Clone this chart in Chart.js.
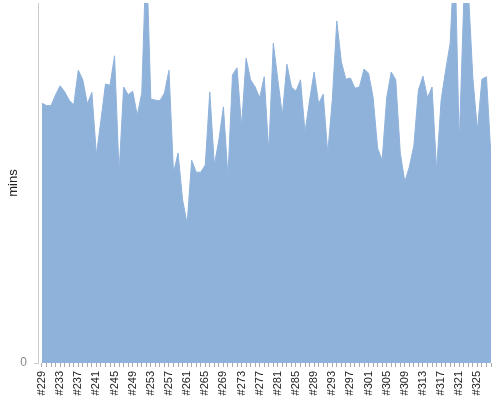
<!DOCTYPE html>
<html><head><meta charset="utf-8">
<script src="https://cdn.jsdelivr.net/npm/chart.js@4/dist/chart.umd.min.js"></script>
<style>html,body{margin:0;padding:0;background:#fff}canvas{display:block}</style>
</head><body>
<canvas id="c" width="500" height="400"></canvas>
<script>
const categories = ['#229','#230','#231','#232','#233','#234','#235','#236','#237','#238',
'#239','#240','#241','#242','#243','#244','#245','#246','#247','#248',
'#249','#250','#251','#252','#253','#254','#255','#256','#257','#258',
'#259','#260','#261','#262','#263','#264','#265','#266','#267','#268',
'#269','#270','#271','#272','#273','#274','#275','#276','#277','#278',
'#279','#280','#281','#282','#283','#284','#285','#286','#287','#288',
'#289','#290','#291','#292','#293','#294','#295','#296','#297','#298',
'#299','#300','#301','#302','#303','#304','#305','#306','#307','#308',
'#309','#310','#311','#312','#313','#314','#315','#316','#317','#318',
'#319','#320','#321','#322','#323','#324','#325','#326','#327','#328'];
const values = [43.3,42.9,42.9,44.7,46.2,45.2,43.8,43.0,48.8,47.2,
43.2,45.1,34.7,40.5,46.5,46.3,51.2,31.7,46.0,44.7,
45.3,41.3,45.0,69.0,44.0,43.8,43.7,45.0,48.8,31.7,
35.0,27.2,23.2,33.8,31.8,31.8,33.0,45.2,33.0,37.2,
42.7,31.0,48.0,49.2,39.5,50.8,47.2,46.0,44.2,47.7,
35.2,53.3,47.2,41.3,49.8,46.0,45.3,47.2,38.5,43.8,
48.5,43.2,44.8,35.0,43.8,57.0,50.2,47.3,47.5,45.8,
46.0,49.0,48.3,44.3,35.8,33.8,44.2,48.5,47.2,35.0,
30.2,32.7,36.3,45.5,47.8,44.2,46.0,32.2,43.8,48.8,
53.3,69.5,36.7,60.5,62.2,47.5,38.8,47.3,47.7,34.3];
const yTickValues = [0];
const yAxisTitle = 'mins';
const labelEvery = 4;

const points = values.map((v, i) => ({x: i, y: v}));

new Chart(document.getElementById('c'), {
  type: 'line',
  data: { datasets: [{
    data: points,
    fill: 'origin',
    backgroundColor: '#8fb2db',
    borderColor: '#8fb2db',
    borderWidth: 1,
    pointRadius: 0,
    tension: 0
  }]},
  options: {
    responsive: false,
    animation: false,
    devicePixelRatio: 1,
    layout: { padding: { top: 3, right: 9, left: 0, bottom: 0 } },
    plugins: { legend: { display: false }, tooltip: { enabled: false } },
    scales: {
      x: {
        type: 'linear',
        bounds: 'data',
        min: -0.88,
        max: categories.length - 1,
        afterBuildTicks: s => { s.ticks = categories.map((c, i) => ({value: i})); },
        afterFit: s => { s.height = 37; s.paddingLeft = 0; s.paddingRight = 0; },
        grid: { drawOnChartArea: false, drawTicks: true, tickLength: 4, color: '#aaa' },
        border: { display: false },
        ticks: {
          autoSkip: false,
          minRotation: 90,
          maxRotation: 90,
          padding: 4,
          color: '#222',
          font: { family: 'Liberation Sans, Arial, sans-serif', size: 11 },
          callback: v => (v % labelEvery === 0) ? categories[v] : ''
        }
      },
      y: {
        min: 0,
        max: 60,
        afterFit: s => { s.width = 38; s.paddingTop = 0; s.paddingBottom = 0; },
        afterBuildTicks: s => { s.ticks = yTickValues.map(v => ({value: v})); },
        grid: { drawOnChartArea: false, drawTicks: true, tickLength: 4, color: '#ccc' },
        border: { display: true, color: '#ccc', width: 1 },
        ticks: {
          padding: 7,
          color: '#888',
          font: { family: 'Liberation Sans, Arial, sans-serif', size: 12 },
          callback: v => String(v)
        },
        title: {
          display: true,
          text: yAxisTitle,
          color: '#222',
          padding: { top: 6, bottom: 0 },
          font: { family: 'Liberation Sans, Arial, sans-serif', size: 13 }
        }
      }
    }
  }
});
</script>
</body></html>
